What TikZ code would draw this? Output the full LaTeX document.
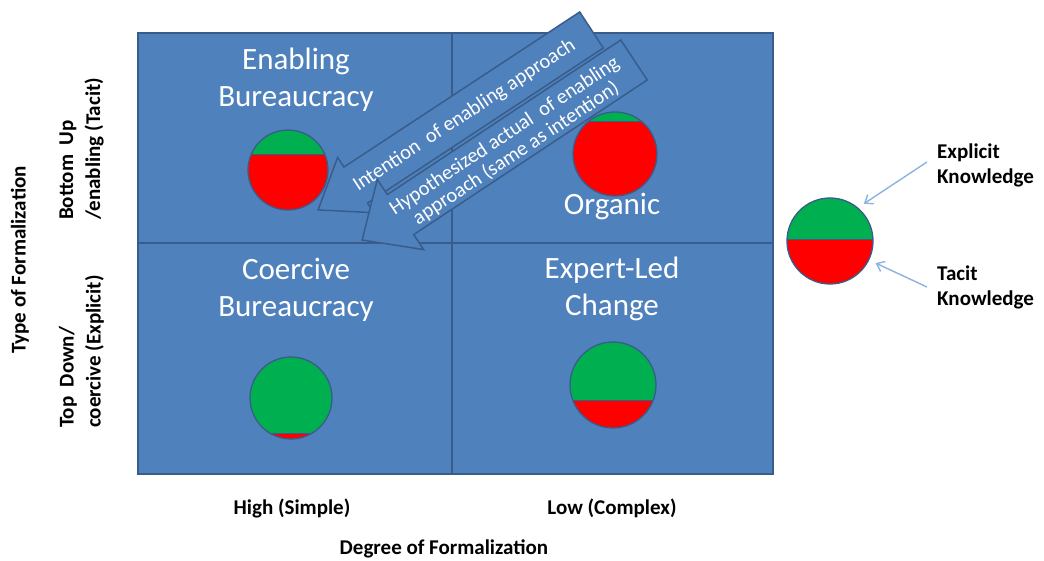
\documentclass[tikz,border=0pt]{standalone}
\usepackage{fontspec}
\setmainfont{Carlito}
\usetikzlibrary{arrows.meta}
\definecolor{qblue}{HTML}{4F81BD}
\definecolor{qborder}{HTML}{385D8A}
\definecolor{kgreen}{HTML}{00B050}
\definecolor{kred}{HTML}{FF0000}
\definecolor{legblue}{HTML}{8DB3E2}
\begin{document}
\begin{tikzpicture}[x=1pt,y=-1pt,
  quad/.style={fill=qblue, draw=qborder, line width=1.8pt},
  divider/.style={draw=qborder, line width=1.8pt},
  kc/.style={circle, draw=qborder, line width=1.3pt, inner sep=0pt, minimum size=#1},
  ksplit/.style={path picture={
     \fill[kred] (path picture bounding box.south west) rectangle ([yshift=#1]path picture bounding box.south east);
     \fill[kgreen] ([yshift=#1]path picture bounding box.south west) rectangle (path picture bounding box.north east);
     \draw[qborder, line width=0.8pt] ([yshift=#1]path picture bounding box.south west) -- ([yshift=#1]path picture bounding box.south east);}},
  blockarr/.style={fill=qblue, draw=qborder, line width=1.5pt, line join=miter},
  arrtxt/.style={text=white, font=\fontsize{20.5}{21}\selectfont, align=center, inner sep=0pt},
  qtitle/.style={text=white, font=\fontsize{31}{37}\selectfont, align=center, inner sep=0pt},
  axlbl/.style={text=black, font=\bfseries\fontsize{21}{27}\selectfont, inner sep=0pt},
  leglbl/.style={text=black, font=\bfseries\fontsize{21}{25}\selectfont, align=left, anchor=west, inner sep=0pt},
  legarrow/.style={draw=legblue, line width=1.4pt, -{Straight Barb[length=7pt,width=11pt]}, shorten >=7pt}
]
\fill[white] (0,0) rectangle (1044,561);
\useasboundingbox (0,0) rectangle (1044,561);

% quadrant grid
\draw[quad] (138,33) rectangle (773,474);
\coordinate (midtop) at (452,33);
\coordinate (midbot) at (452,474);
\coordinate (midleft) at (138,243);
\coordinate (midright) at (773,243);
\draw[divider] (midtop) -- (midbot);
\draw[divider] (midleft) -- (midright);

% quadrant titles
\node[qtitle] (enab) at (296,80) {Enabling\\Bureaucracy};
\node[qtitle] (coer) at (296,290) {Coercive\\Bureaucracy};
\node[qtitle] (expl) at (612,289) {Expert-Led\\Change};
\node[qtitle] (org) at (612,207) {Organic};

% knowledge circles
\node[kc=80pt, ksplit=56pt] (cEnab) at (288,170) {};
\node[kc=84pt, ksplit=75pt] (cOrg) at (615,154) {};
\node[kc=82pt, ksplit=6pt] (cCoer) at (291,398) {};
\node[kc=86pt, ksplit=28pt] (cExp) at (613,385) {};
\node[kc=86pt, ksplit=45pt] (cLeg) at (830,241) {};

% block arrows
\draw[blockarr] (579.7,12.0) -- (343.9,167.1) -- (337.6,157.5) -- (318.1,209.9)
  -- (373.9,212.7) -- (367.5,203.1) -- (603.3,48.0) -- cycle;
\draw[blockarr] (620.8,40.0) -- (387.3,194.6) -- (377.3,179.6) -- (362.1,240.0)
  -- (423.7,249.6) -- (413.7,234.6) -- (647.2,80.0) -- cycle;
\node[arrtxt, rotate=33.35] (t1) at (464.5,115.5) {Intention~~of enabling approach};
\node[arrtxt, rotate=33.5] (t2) at (510.5,145) {Hypothesized actual~~of enabling\\approach (same as intention)};

% legend
\node[leglbl] (explbl) at (937,165) {Explicit\\Knowledge};
\node[leglbl] (taclbl) at (937,287) {Tacit\\Knowledge};
\draw[legarrow] ([xshift=-10pt,yshift=3pt]explbl.west) -- (cLeg.50);
\draw[legarrow] ([xshift=-10pt]taclbl.west) -- (cLeg.-26);

% axis labels
\node[axlbl] (high) at (292,508) {High (Simple)};
\node[axlbl] (low) at (612,508) {Low (Complex)};
\node[axlbl] (degree) at (444,549) {Degree of Formalization};
\node[axlbl, rotate=90] (type) at (20,260) {Type of Formalization};
\node[axlbl, rotate=90, anchor=west, align=left] (bottomup) at (81.5,220) {Bottom~~Up\\/enabling (Tacit)};
\node[axlbl, rotate=90, anchor=west, align=left] (topdown) at (81.5,428) {Top~~Down/\\coercive (Explicit)};
\end{tikzpicture}
\end{document}
